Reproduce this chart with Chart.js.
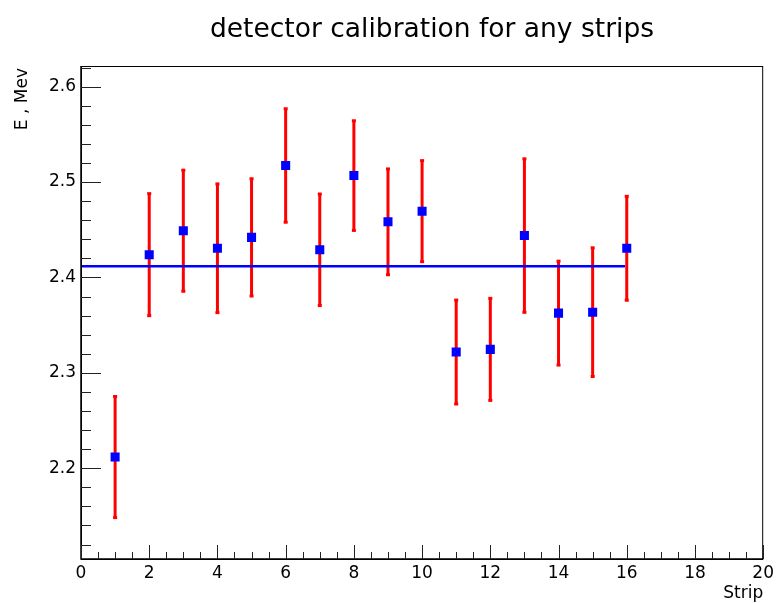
<!DOCTYPE html>
<html>
<head>
<meta charset="utf-8">
<script src="https://cdn.jsdelivr.net/npm/chart.js@4/dist/chart.umd.min.js"></script>
<style>
  html, body { margin: 0; padding: 0; background: #fff; }
  #wrap { width: 778px; height: 603px; }
</style>
</head>
<body>
<div id="wrap"><canvas id="chart" width="778" height="603"></canvas></div>
<script>
// values
const strips = [1, 2, 3, 4, 5, 6, 7, 8, 9, 10, 11, 12, 13, 14, 15, 16];
const energy = [2.2117, 2.4239, 2.449, 2.4306, 2.442, 2.5174, 2.429, 2.5068,
                2.4583, 2.4695, 2.3218, 2.3246, 2.4439, 2.3626, 2.3636, 2.4306];
const errors = [0.064, 0.0645, 0.064, 0.068, 0.062, 0.06, 0.059, 0.058,
                0.056, 0.0535, 0.055, 0.054, 0.081, 0.055, 0.068, 0.055];
const fitLevel = 2.4117;
const fitRange = [0, 15.95];

const xTicks = [0, 2, 4, 6, 8, 10, 12, 14, 16, 18, 20];
const yTicks = [2.2, 2.3, 2.4, 2.5, 2.6];
const xRange = [0, 20];
const yRange = [2.1048, 2.6217];

const titleText = 'detector calibration for any strips';
const xTitle = 'Strip';
const yTitle = 'E , Mev';

const FONT = '"DejaVu Sans", sans-serif';

function minorTicks(min, max, step) {
  const out = [];
  const n = Math.round((max - min) / step);
  for (let i = 0; i <= n; i++) out.push(+(min + i * step).toFixed(4));
  return out;
}

// ROOT-like frame with inward ticks, error bars and titles
const rootStyle = {
  id: 'rootStyle',
  beforeDatasetsDraw(chart) {
    const { ctx, scales: { x, y } } = chart;
    ctx.save();
    ctx.strokeStyle = '#ff0000';
    ctx.fillStyle = '#ff0000';
    ctx.lineWidth = 3;
    strips.forEach((s, i) => {
      const px = x.getPixelForValue(s);
      const top = y.getPixelForValue(energy[i] + errors[i]);
      const bot = y.getPixelForValue(energy[i] - errors[i]);
      ctx.beginPath();
      ctx.moveTo(px, top);
      ctx.lineTo(px, bot);
      ctx.stroke();
      // small end marks like ROOT
      ctx.fillRect(px - 2, top - 1, 4, 3);
      ctx.fillRect(px - 2, bot - 2, 4, 3);
    });
    ctx.restore();
  },
  afterDraw(chart) {
    const { ctx, chartArea: a, scales: { x, y } } = chart;
    ctx.save();
    ctx.strokeStyle = '#000';
    ctx.lineWidth = 1;
    ctx.strokeRect(a.left + 0.5, a.top + 0.5, a.right - a.left - 1, a.bottom - a.top);
    ctx.lineWidth = 1.5;
    ctx.beginPath();
    ctx.moveTo(a.left, a.top);
    ctx.lineTo(a.left, a.bottom);
    ctx.lineTo(a.right, a.bottom);
    ctx.stroke();

    ctx.lineWidth = 1;
    ctx.strokeStyle = '#222';
    ctx.beginPath();
    minorTicks(xRange[0], xRange[1], 0.5).forEach(v => {
      const px = Math.round(x.getPixelForValue(v)) + 0.5;
      const len = xTicks.includes(v) ? 14 : 7;
      ctx.moveTo(px, a.bottom);
      ctx.lineTo(px, a.bottom - len);
    });
    minorTicks(2.12, 2.62, 0.02).forEach(v => {
      if (v < yRange[0] || v > yRange[1]) return;
      const py = Math.round(y.getPixelForValue(v)) + 0.5;
      const len = yTicks.some(t => Math.abs(t - v) < 1e-6) ? 20 : 10;
      ctx.moveTo(a.left, py);
      ctx.lineTo(a.left + len, py);
    });
    ctx.stroke();

    ctx.fillStyle = '#000';
    ctx.font = '26.5px ' + FONT;
    ctx.textAlign = 'center';
    ctx.textBaseline = 'alphabetic';
    ctx.fillText(titleText, 432, 37);

    ctx.font = '17px ' + FONT;
    ctx.textAlign = 'right';
    ctx.fillText(xTitle, a.right, 598);

    ctx.translate(27, a.top + 2);
    ctx.rotate(-Math.PI / 2);
    ctx.textAlign = 'right';
    ctx.fillText(yTitle, 0, 0);
    ctx.restore();
  }
};

new Chart(document.getElementById('chart'), {
  type: 'scatter',
  data: {
    datasets: [
      {
        type: 'scatter',
        label: 'E',
        data: strips.map((s, i) => ({ x: s, y: energy[i] })),
        pointStyle: 'rect',
        pointRadius: 6.4,
        pointBorderWidth: 0,
        backgroundColor: '#0000ff',
        borderColor: '#0000ff',
        order: 0
      },
      {
        type: 'line',
        label: 'fit',
        data: fitRange.map(v => ({ x: v, y: fitLevel })),
        borderColor: '#0000ff',
        borderWidth: 2.5,
        pointRadius: 0,
        fill: false,
        order: 1
      }
    ]
  },
  options: {
    responsive: false,
    animation: false,
    events: [],
    layout: { padding: { top: 66, right: 11, left: 0, bottom: 0 } },
    plugins: { legend: { display: false }, tooltip: { enabled: false }, title: { display: false } },
    scales: {
      x: {
        type: 'linear',
        min: xRange[0],
        max: xRange[1],
        afterBuildTicks: s => { s.ticks = xTicks.map(v => ({ value: v })); },
        afterFit: s => { s.height = 44; },
        grid: { display: false, drawTicks: false },
        border: { display: false },
        ticks: {
          color: '#000',
          font: { family: FONT, size: 17 },
          padding: 4,
          maxRotation: 0,
          callback: v => String(v)
        }
      },
      y: {
        type: 'linear',
        min: yRange[0],
        max: yRange[1],
        afterBuildTicks: s => { s.ticks = yTicks.map(v => ({ value: v })); },
        afterFit: s => { s.width = 81; },
        grid: { display: false, drawTicks: false },
        border: { display: false },
        ticks: {
          color: '#000',
          font: { family: FONT, size: 17 },
          padding: 5,
          callback: v => Number(v).toFixed(1)
        }
      }
    }
  },
  plugins: [rootStyle]
});
</script>
</body>
</html>
